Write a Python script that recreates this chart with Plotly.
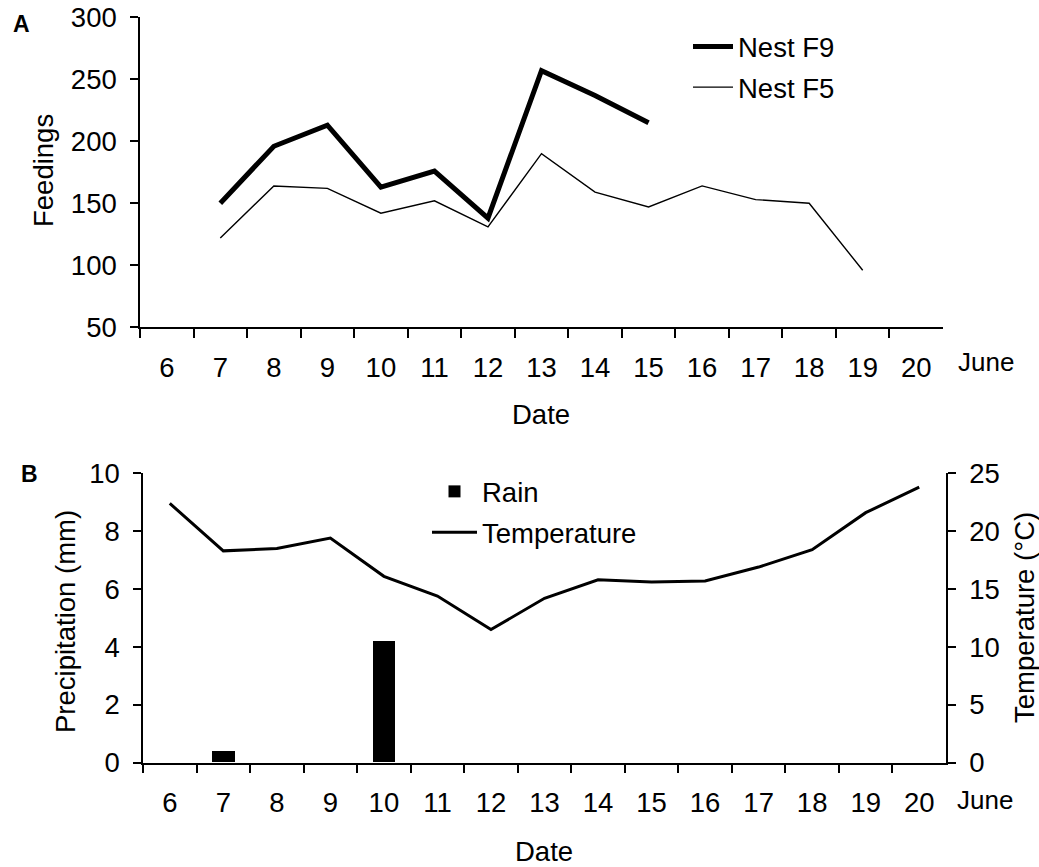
import plotly.graph_objects as go

# ---------------- data ----------------
dates = ["6", "7", "8", "9", "10", "11", "12", "13", "14", "15", "16", "17", "18", "19", "20"]

f9_dates = ["7", "8", "9", "10", "11", "12", "13", "14", "15"]
f9_feedings = [150, 196, 213, 163, 176, 138, 257, 237, 215]

f5_dates = ["7", "8", "9", "10", "11", "12", "13", "14", "15", "16", "17", "18", "19"]
f5_feedings = [122, 164, 162, 142, 152, 131, 190, 159, 147, 164, 153, 150, 96]

rain_mm = [0, 0.4, 0, 0, 4.2, 0, 0, 0, 0, 0, 0, 0, 0, 0, 0]
temperature_c = [22.4, 18.3, 18.5, 19.4, 16.1, 14.4, 11.5, 14.2, 15.8, 15.6, 15.7, 16.9, 18.4, 21.6, 23.8]

W, H = 1039, 867
FONT = "Liberation Sans, Arial, sans-serif"
FS = 27.5


def px(x):
    return x / W


def py(y):
    return 1 - y / H


fig = go.Figure()

fig.add_trace(go.Scatter(x=f9_dates, y=f9_feedings, mode="lines", name="Nest F9",
                         line=dict(color="black", width=5), xaxis="x", yaxis="y",
                         legend="legend", legendgroup="a1"))
fig.add_trace(go.Scatter(x=f5_dates, y=f5_feedings, mode="lines", name="Nest F5",
                         line=dict(color="black", width=1.4), xaxis="x", yaxis="y",
                         legend="legend", legendgroup="a2"))
fig.add_trace(go.Bar(x=dates, y=rain_mm, name="Rain", width=0.42,
                     marker=dict(color="black", line=dict(width=0)),
                     xaxis="x2", yaxis="y2", legend="legend2", legendgroup="b1"))
fig.add_trace(go.Scatter(x=dates, y=temperature_c, mode="lines", name="Temperature",
                         line=dict(color="black", width=3), xaxis="x2", yaxis="y3",
                         legend="legend2", legendgroup="b2"))

axis_common = dict(showline=True, linecolor="black", linewidth=1.5, showgrid=False,
                   zeroline=False, ticks="outside", tickcolor="black", tickwidth=1.5,
                   automargin=False,
                   tickfont=dict(family=FONT, size=FS, color="black"))

xdomA = [px(140), px(943)]
xdomB = [px(143), px(946)]

fig.update_layout(
    width=W, height=H,
    margin=dict(l=0, r=0, t=0, b=0, autoexpand=False),
    paper_bgcolor="white", plot_bgcolor="white",
    font=dict(family=FONT, size=FS, color="black"),
    bargap=0,
    xaxis=dict(axis_common, type="category", categoryorder="array", categoryarray=dates,
               range=[-0.5, 14.5], tickson="boundaries", ticklen=9, domain=xdomA,
               anchor="y", ticklabelstandoff=15),
    yaxis=dict(axis_common, range=[50, 300], dtick=50, ticklen=8,
               domain=[py(327.3), py(17.3)], anchor="x", ticklabelstandoff=8),
    xaxis2=dict(axis_common, type="category", categoryorder="array", categoryarray=dates,
                range=[-0.5, 14.5], tickson="boundaries", ticklen=9, domain=xdomB,
                anchor="y2", ticklabelstandoff=15),
    yaxis2=dict(axis_common, range=[0, 10], dtick=2, ticklen=8,
                domain=[py(762.7), py(473.3)], anchor="x2", ticklabelstandoff=8),
    yaxis3=dict(axis_common, range=[0, 25], dtick=5, ticklen=8, side="right",
                overlaying="y2", anchor="x2", ticklabelstandoff=8),
    legend=dict(x=px(688), y=py(22), xanchor="left", yanchor="top",
                bgcolor="rgba(0,0,0,0)", font=dict(family=FONT, size=FS),
                traceorder="grouped", tracegroupgap=2, itemwidth=40),
    legend2=dict(x=px(427), y=py(467), xanchor="left", yanchor="top",
                 bgcolor="rgba(0,0,0,0)", font=dict(family=FONT, size=FS),
                 traceorder="grouped", tracegroupgap=2, itemwidth=45),
    showlegend=True,
)

ann = []


def add_text(text, x, y, size=FS, angle=0, bold=False, xanchor="center"):
    ann.append(dict(text=("<b>%s</b>" % text) if bold else text, x=px(x), y=py(y),
                    xref="paper", yref="paper", showarrow=False, textangle=angle,
                    xanchor=xanchor, yanchor="middle",
                    font=dict(family=FONT, size=size, color="black")))


add_text("A", 11, 24, size=23, bold=True, xanchor="left")
add_text("B", 19, 474, size=23, bold=True, xanchor="left")
add_text("Feedings", 43, 171, angle=-90)
add_text("Precipitation (mm)", 65, 622, angle=-90)
add_text("Temperature (°C)", 1024, 618, angle=-90)
add_text("Date", 541, 415)
add_text("Date", 544, 851)
add_text("June", 956, 362, size=26, xanchor="left")
add_text("June", 955, 800, size=26, xanchor="left")

fig.update_layout(annotations=ann)

fig.write_html("out.html", config={"displayModeBar": False},
               post_script="document.body.style.margin='0';document.body.style.padding='0';")
